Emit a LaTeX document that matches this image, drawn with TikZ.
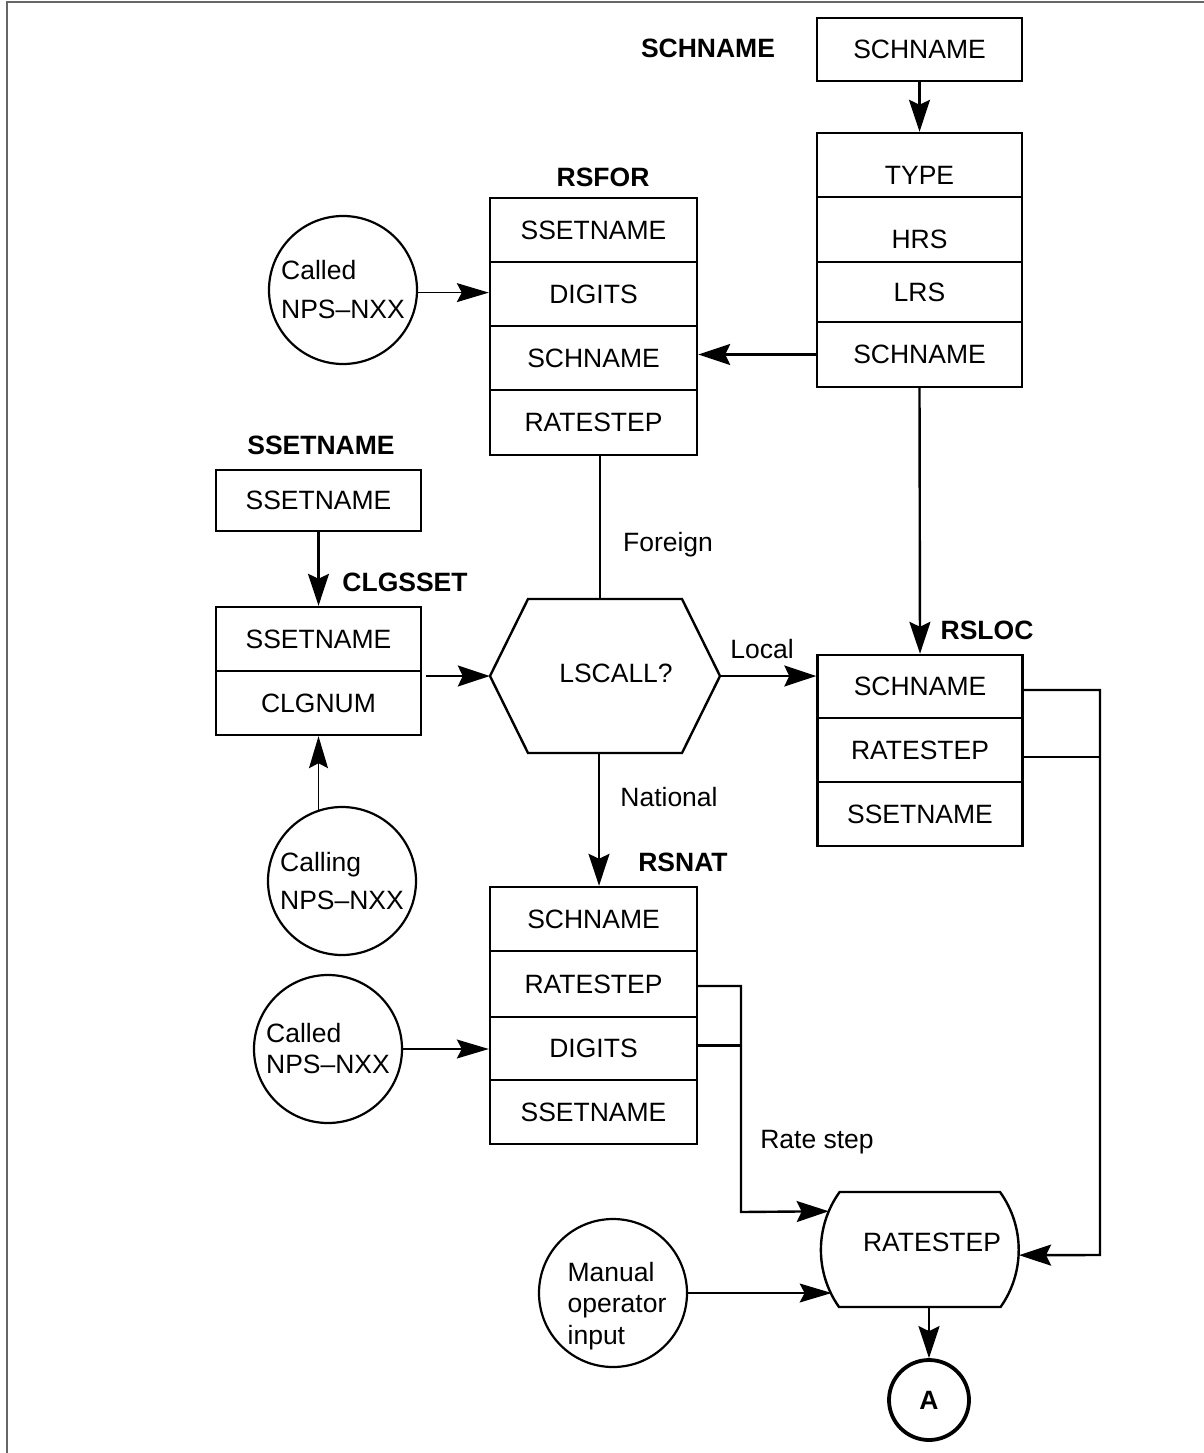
\documentclass[tikz,border=0pt]{standalone}
\usepackage{fontspec}
\setmainfont{Liberation Sans}
\usetikzlibrary{arrows.meta,calc}
\tikzset{
  every node/.style={font=\fontsize{26.5}{32}\selectfont},
  cellA/.style={draw, line width=2.4pt, inner sep=0pt, minimum width=205pt, minimum height=64pt},
  cellB/.style={draw, line width=2.4pt, inner sep=0pt, minimum width=207pt, minimum height=64pt},
  lowtext/.style={text height=38pt, text depth=0pt},
  title/.style={font=\fontsize{26.5}{32}\selectfont\bfseries, inner sep=0pt},
  plain/.style={inner sep=0pt},
  src/.style={draw, circle, line width=2.2pt, minimum size=148pt, inner sep=0pt, align=left},
  ln/.style={line width=2.4pt},
  conn/.style={line width=2.4pt, -{Stealth[length=32pt,width=21pt,inset=5pt]}},
  thinconn/.style={line width=1.2pt, -{Stealth[length=32pt,width=19pt,inset=5pt]}},
  framel/.style={line width=2.5pt, draw=black!60}
}
\begin{document}
\begin{tikzpicture}[x=1pt,y=-1pt]
\useasboundingbox (0,0) rectangle (1204,1453);
\draw[framel] (7,1453) -- (7,2) -- (1204,2);

% SCHNAME table and schedule
\node[title] (tschname) at (708,48) {SCHNAME};
\node[cellA, minimum height=63pt] (top) at (919.5,49.5) {SCHNAME};
\node[cellA, lowtext] (type) at (919.5,165) {TYPE};
\node[cellA, minimum height=65pt, lowtext] (hrs) at (919.5,229.5) {HRS};
\node[cellA, minimum height=60pt] (lrs) at (919.5,292) {LRS};
\node[cellA, minimum height=65pt] (bsch) at (919.5,354.5) {SCHNAME};

% RSFOR
\node[title] (trsfor) at (603,177) {RSFOR};
\node[cellB] (rssn) at (593.5,230) {SSETNAME};
\node[cellB] (rdig) at (593.5,294) {DIGITS};
\node[cellB] (rsch) at (593.5,358) {SCHNAME};
\node[cellB, minimum height=65pt] (rrate) at (593.5,422.5) {RATESTEP};

% SSETNAME / CLGSSET
\node[title] (tsset) at (321,445) {SSETNAME};
\node[cellA, minimum height=61pt] (sset) at (318.5,500.5) {SSETNAME};
\node[title] (tclg) at (405,582) {CLGSSET};
\node[cellA] (cs) at (318.5,639) {SSETNAME};
\node[cellA] (cn) at (318.5,703) {CLGNUM};

% circles
\node[src, font=\fontsize{26.5}{39}\selectfont] (c1) at (343,290) {Called\\NPS--NXX};
\node[src, font=\fontsize{26.5}{38}\selectfont] (cl) at (342,881) {Calling\\NPS--NXX};
\node[src, font=\fontsize{26.5}{31}\selectfont] (c2) at (328,1049) {Called\\NPS--NXX};
\node[src] (mo) at (613,1293) {};
\node[plain, align=left, font=\fontsize{26.5}{31.5}\selectfont] (motext) at (617,1306) {Manual\\operator\\input};

% hexagon
\draw[ln] (490,676) -- (528,599) -- (682,599) -- (720,676) -- (682,753) -- (528,753) -- cycle;
\node[inner sep=0pt, minimum width=230pt, minimum height=154pt] (hex) at (605,676) {};
\node[plain] (hextext) at (616,673) {LSCALL?};

% RSLOC
\node[title] (trsloc) at (987,630) {RSLOC};
\node[cellA, minimum height=63pt] (lsch) at (920,686.5) {SCHNAME};
\node[cellA] (lrate) at (920,750) {RATESTEP};
\node[cellA] (lsset) at (920,814) {SSETNAME};

% RSNAT
\node[title] (trsnat) at (683,862) {RSNAT};
\node[cellB] (nsch) at (593.5,919) {SCHNAME};
\node[cellB, minimum height=66pt] (nrate) at (593.5,984) {RATESTEP};
\node[cellB, minimum height=63pt] (ndig) at (593.5,1048.5) {DIGITS};
\node[cellB] (nsset) at (593.5,1112) {SSETNAME};

% RATESTEP display
\node[circle, inner sep=0pt, minimum size=198pt] (rs) at (920,1250) {};
\draw[ln] (840,1192) -- (1000,1192) arc[start angle=-35.8, end angle=35.2, radius=99]
  -- (839,1307) arc[start angle=144.8, end angle=215.8, radius=99] -- cycle;
\node[plain] (rstext) at (932,1242) {RATESTEP};
\coordinate (rsb) at (929,1307);
\node[draw, circle, line width=3.8pt, minimum size=80pt, inner sep=0pt, font=\fontsize{26.5}{32}\selectfont\bfseries] (A) at (929,1400) {A};

% labels
\node[plain] (lforeign) at (668,545) {Foreign};
\node[plain] (llocal) at (762,649) {Local};
\node[plain] (lnational) at (669,797) {National};
\node[plain] (lrstep) at (817,1142) {Rate step};

% connectors
\draw[conn] (top.south) -- (type.north);
\draw[conn] (bsch.west) -- (bsch.west -| rsch.east);
\draw[conn] (bsch.south) -- (lsch.north);
\draw[thinconn] (c1.-2) -- (c1.-2 -| rdig.west);
\draw[ln] ([xshift=6.5pt]rrate.south) -- ([xshift=6.5pt]rrate.south |- hex.north);
\draw[conn] ([xshift=5.5pt]nsch.north |- hex.south) -- ([xshift=5.5pt]nsch.north);
\draw[conn] (hex.east) -- (hex.east -| lsch.west);
\draw[conn] (sset.south) -- (cs.north);
\draw[conn] ([xshift=4pt]cs.south east |- hex.west) -- (hex.west);
\draw[thinconn] (cn.south |- cl.108.5) -- (cn.south);
\draw[thinconn] (c2.east) -- (c2.east -| ndig.west);

\coordinate (rj) at (1100,1255);
\draw[ln] ([yshift=-7pt]lrate.east) -- ([yshift=-7pt]lrate.east -| rj);
\draw[conn] ([yshift=-3.5pt]lsch.east) -| (rj) -- (rs.-3);

\coordinate (nj) at (741,1212);
\draw[ln] ([yshift=3pt]ndig.east) -- ([yshift=3pt]ndig.east -| nj);
\draw[conn] ([yshift=-2pt]nrate.east) -| (nj) -- (rs.157.4);
\draw[thinconn] (mo.east) -- (mo.east -| rs.207);
\draw[conn] (rsb) -- (A.north);
\end{tikzpicture}
\end{document}
